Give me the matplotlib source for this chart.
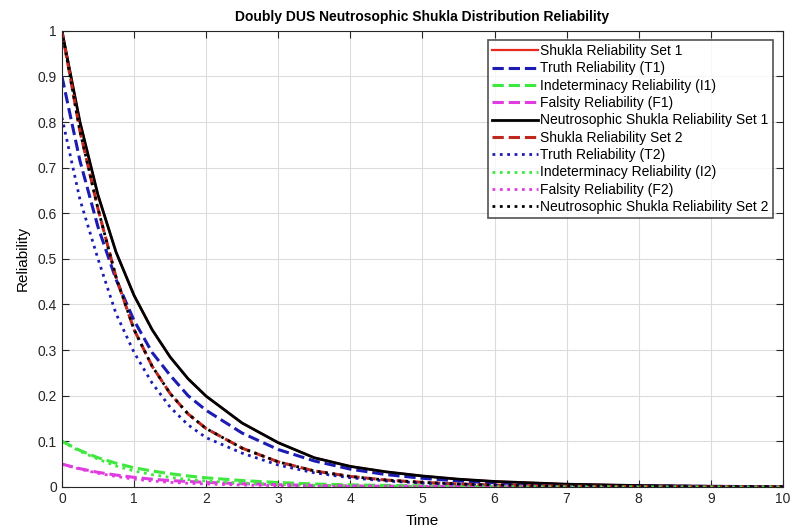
import matplotlib
matplotlib.use("Agg")
import matplotlib.pyplot as plt
import numpy as np

plt.rcParams["font.family"] = ["Liberation Sans", "DejaVu Sans"]

# time points
t = [0, 0.25, 0.5, 0.75, 1.0, 1.25, 1.5, 1.75, 2.0, 2.5, 3.0, 3.5, 4.0,
     4.5, 5.0, 5.5, 6.0, 7.0, 8.0, 9.0, 10.0]

# set 1
shukla_1 = [1.0, 0.80, 0.64, 0.515, 0.42, 0.345, 0.285, 0.237, 0.199, 0.14,
            0.097, 0.064, 0.045, 0.033, 0.024, 0.017, 0.012, 0.006, 0.003,
            0.0015, 0.0007]
truth_1 = [0.9, 0.715, 0.57, 0.455, 0.365, 0.295, 0.245, 0.2, 0.168, 0.118,
           0.082, 0.057, 0.039, 0.027, 0.019, 0.013, 0.009, 0.0045, 0.0022,
           0.0011, 0.0005]
indet_1 = [0.1, 0.08, 0.064, 0.052, 0.042, 0.035, 0.029, 0.024, 0.02, 0.014,
           0.0097, 0.0064, 0.0045, 0.0033, 0.0024, 0.0017, 0.0012, 0.0006,
           0.0003, 0.00015, 0.00007]
falsity_1 = [0.05, 0.04, 0.032, 0.026, 0.021, 0.017, 0.014, 0.012, 0.01,
             0.007, 0.005, 0.0032, 0.0022, 0.0016, 0.0012, 0.0008, 0.0006,
             0.0003, 0.00015, 0.00008, 0.00004]
neutro_1 = shukla_1

# set 2
shukla_2 = [1.0, 0.78, 0.61, 0.46, 0.345, 0.265, 0.205, 0.16, 0.128, 0.085,
            0.055, 0.035, 0.023, 0.015, 0.01, 0.0065, 0.004, 0.0018, 0.0008,
            0.0003, 0.0001]
truth_2 = [0.81, 0.63, 0.50, 0.38, 0.295, 0.228, 0.175, 0.136, 0.108, 0.074,
           0.048, 0.031, 0.02, 0.013, 0.0085, 0.0055, 0.0035, 0.0015, 0.0006,
           0.0003, 0.0001]
indet_2 = [0.1, 0.078, 0.061, 0.046, 0.035, 0.027, 0.021, 0.016, 0.013,
           0.0085, 0.0055, 0.0035, 0.0023, 0.0015, 0.001, 0.0007, 0.0004,
           0.0002, 0.0001, 0.00003, 0.00001]
falsity_2 = [0.05, 0.039, 0.03, 0.023, 0.017, 0.013, 0.01, 0.008, 0.0064,
             0.0042, 0.0027, 0.0018, 0.0011, 0.0008, 0.0005, 0.0003, 0.0002,
             0.0001, 0.00004, 0.00002, 0.00001]
neutro_2 = shukla_2

RED = "#e8281e"
BLUE = "#1c1cb4"
GREEN = "#3ee83e"
MAGENTA = "#e03ce0"

fig = plt.figure(figsize=(7.94, 5.31), dpi=100)
ax = fig.add_axes([0.078, 0.083, 0.908, 0.859])

ax.plot(t, shukla_1, color=RED, ls="-", lw=1.6, label="Shukla Reliability Set 1")
ax.plot(t, truth_1, color=BLUE, ls="--", lw=2.2, label="Truth Reliability (T1)")
ax.plot(t, indet_1, color=GREEN, ls="--", lw=2.2, label="Indeterminacy Reliability (I1)")
ax.plot(t, falsity_1, color=MAGENTA, ls="--", lw=2.2, label="Falsity Reliability (F1)")
ax.plot(t, neutro_1, color="black", ls="-", lw=2.0, label="Neutrosophic Shukla Reliability Set 1")
ax.plot(t, shukla_2, color="#c0281e", ls="--", lw=2.2, label="Shukla Reliability Set 2")
ax.plot(t, truth_2, color=BLUE, ls=":", lw=2.0, label="Truth Reliability (T2)")
ax.plot(t, indet_2, color=GREEN, ls=":", lw=2.0, label="Indeterminacy Reliability (I2)")
ax.plot(t, falsity_2, color=MAGENTA, ls=":", lw=2.0, label="Falsity Reliability (F2)")
ax.plot(t, neutro_2, color="black", ls=":", lw=2.0, label="Neutrosophic Shukla Reliability Set 2")

ax.set_xlim(0, 10)
ax.set_ylim(0, 1)
ax.set_xticks(np.arange(0, 11, 1))
ax.set_yticks(np.arange(0, 1.01, 0.1))
ax.set_yticklabels(["0", "0.1", "0.2", "0.3", "0.4", "0.5", "0.6", "0.7", "0.8", "0.9", "1"])
ax.tick_params(direction="in", top=True, right=True, labelsize=10,
               colors="#262626", length=5)
ax.grid(True, color="#dcdcdc", lw=0.8)
for s in ax.spines.values():
    s.set_color("#262626")

ax.set_title("Doubly DUS Neutrosophic Shukla Distribution Reliability",
             fontsize=10, fontweight="bold", pad=7)
ax.set_xlabel("Time", fontsize=11, labelpad=6)
ax.set_ylabel("Reliability", fontsize=11, labelpad=6)

leg = ax.legend(loc="upper right", bbox_to_anchor=(0.986, 0.98), fontsize=10,
                frameon=True, fancybox=False, edgecolor="#262626",
                handlelength=3.3, handletextpad=0.15, labelspacing=0.24,
                borderpad=0.3, borderaxespad=0)
leg.get_frame().set_linewidth(1.2)

fig.savefig("out.png", dpi=100)
